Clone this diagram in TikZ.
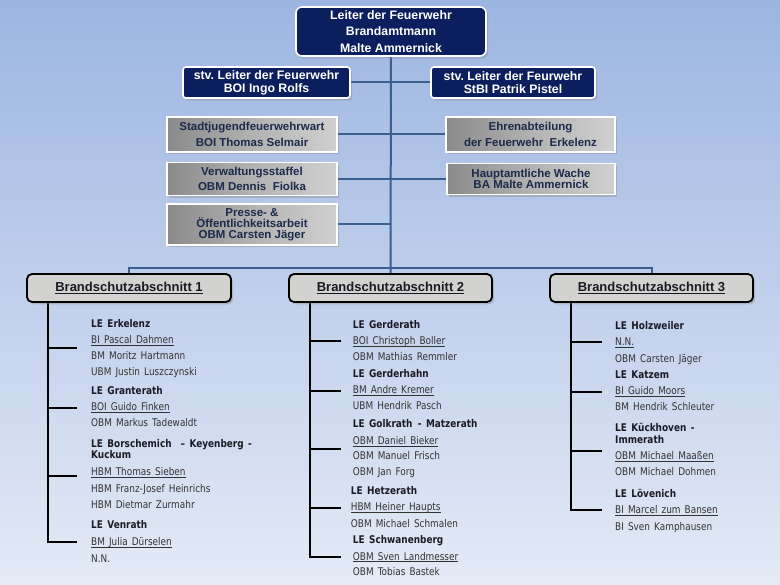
\documentclass[tikz,border=0pt]{standalone}
\usepackage{fontspec}
\setmainfont{Liberation Sans}
\newfontfamily\listfont{DejaVu Sans}[FakeStretch=0.84,WordSpace=1.45]
\usetikzlibrary{shadows}
\pgfdeclarelayer{bg}
\pgfdeclarelayer{background}
\pgfsetlayers{bg,background,main}
\definecolor{navy}{HTML}{0B1F5E}
\definecolor{linkblue}{HTML}{3C5E8E}
\definecolor{bgtop}{HTML}{9CB5E1}
\definecolor{bgmid}{HTML}{C3D2EC}
\definecolor{bgbot}{HTML}{E4EAF6}
\definecolor{boxtxt}{HTML}{1C2A4C}
\definecolor{listtxt}{HTML}{333333}
\definecolor{headtxt}{HTML}{1A1A24}
\definecolor{grayL}{HTML}{8A8A8A}
\definecolor{grayM}{HTML}{B2B2B2}
\definecolor{grayR}{HTML}{D0D0D0}
\definecolor{secfill}{HTML}{D2D2D0}
\newcommand\ulx[1]{\setbox0\hbox{#1}\rlap{\rule[-1.8pt]{\wd0}{0.5pt}}\box0}
\newcommand\ulh[1]{\setbox0\hbox{#1}\rlap{\rule[-2.6pt]{\wd0}{0.8pt}}\box0}
\frenchspacing
\begin{document}
\begin{tikzpicture}[x=1pt,y=-1pt,
  shad/.style={drop shadow={opacity=0.35,shadow xshift=2pt,shadow yshift=-2.5pt}},
  navybox/.style={draw=white,line width=1.6pt,fill=navy,text=white,align=center,inner sep=0pt,shad},
  graybox/.style={draw=white,line width=1.8pt,left color=grayL,right color=grayR,middle color=grayM,text=boxtxt,align=center,inner sep=0pt,shad},
  secbox/.style={draw=black,line width=1.8pt,fill=secfill,rounded corners=5pt,text=headtxt,inner sep=0pt,minimum height=28pt,font=\bfseries\fontsize{13}{15}\selectfont,shad},
  conn/.style={draw=linkblue,line width=2pt},
  spine/.style={draw=black,line width=2.4pt},
  item/.style={anchor=base west,inner sep=0pt,text=listtxt,font=\listfont\fontsize{10.6}{12}\selectfont},
  head/.style={anchor=base west,inner sep=0pt,text=headtxt,font=\listfont\bfseries\fontsize{10.6}{12}\selectfont}]
\useasboundingbox (0,0) rectangle (780,585);
\begin{pgfonlayer}{bg}
\shade[top color=bgtop,middle color=bgmid,bottom color=bgbot] (0,0) rectangle (780,585);
\end{pgfonlayer}

% top boxes
\node[navybox,rounded corners=6pt,minimum width=190pt,minimum height=49pt,font=\bfseries\fontsize{12.3}{16.7}\selectfont] (top) at (391,31.5) {Leiter der Feuerwehr\\Brandamtmann\\Malte Ammernick};
\node[navybox,rounded corners=3pt,minimum width=167pt,minimum height=31pt,font=\bfseries\fontsize{12.3}{12.7}\selectfont] (stvL) at (266.5,82.5) {stv. Leiter der Feuerwehr\\BOI Ingo Rolfs};
\node[navybox,rounded corners=3pt,minimum width=164pt,minimum height=31pt,font=\bfseries\fontsize{12.3}{12.7}\selectfont] (stvR) at (513,82.5) {stv. Leiter der Feurwehr\\StBI Patrik Pistel};

% gray boxes
\node[graybox,minimum width=170pt,minimum height=35pt,font=\bfseries\fontsize{11.5}{16.7}\selectfont] (sj) at (252,134.5) {Stadtjugendfeuerwehrwart\\BOI Thomas Selmair};
\node[graybox,minimum width=169pt,minimum height=35pt,font=\bfseries\fontsize{11.5}{16.7}\selectfont] (ehr) at (530.5,134.5) {Ehrenabteilung\\der Feuerwehr\ \ Erkelenz};
\node[graybox,minimum width=170pt,minimum height=33pt,font=\bfseries\fontsize{11.5}{15}\selectfont] (vw) at (252,179) {Verwaltungsstaffel\\OBM Dennis\ \ Fiolka};
\node[graybox,minimum width=168pt,minimum height=31pt,font=\bfseries\fontsize{11.5}{11.5}\selectfont] (hw) at (531,179) {Hauptamtliche Wache\\BA Malte Ammernick};
\node[graybox,minimum width=170pt,minimum height=41pt,font=\bfseries\fontsize{11.5}{11.2}\selectfont] (pr) at (252,224.5) {Presse- \&\\Öffentlichkeitsarbeit\\OBM Carsten Jäger};

% section boxes
\node[secbox,minimum width=204pt] (b1) at (129,288) {\ulh{Brandschutzabschnitt 1}};
\node[secbox,minimum width=203pt] (b2) at (390.5,288) {\ulh{Brandschutzabschnitt 2}};
\node[secbox,minimum width=203pt] (b3) at (651.5,288) {\ulh{Brandschutzabschnitt 3}};

% column 1
\node[head] (c1h1) at (91,327.5) {LE Erkelenz};
\node[item] (c1a) at (91,343.5) {\ulx{BI Pascal Dahmen}};
\node[item] (c1b) at (91,359.5) {BM Moritz Hartmann};
\node[item] (c1c) at (91,375.5) {UBM Justin Luszczynski};
\node[head] (c1h2) at (91,394.5) {LE Granterath};
\node[item] (c1d) at (91,410.5) {\ulx{BOI Guido Finken}};
\node[item] (c1e) at (91,426.5) {OBM Markus Tadewaldt};
\node[head] (c1h3) at (91,447.5) {LE Borschemich\ \ – Keyenberg -};
\node[head] (c1h3b) at (91,459) {Kuckum};
\node[item] (c1f) at (91,475.8) {\ulx{HBM Thomas Sieben}};
\node[item] (c1g) at (91,492.5) {HBM Franz-Josef Heinrichs};
\node[item] (c1i) at (91,509) {HBM Dietmar Zurmahr};
\node[head] (c1h4) at (91,529) {LE Venrath};
\node[item] (c1j) at (91,545.8) {\ulx{BM Julia Dürselen}};
\node[item] (c1k) at (91,562.5) {N.N.};

% column 2
\node[head] (c2h1) at (352.7,328.5) {LE Gerderath};
\node[item] (c2a) at (352.7,344.5) {\ulx{BOI Christoph Boller}};
\node[item] (c2b) at (352.7,361) {OBM Mathias Remmler};
\node[head] (c2h2) at (352.7,378) {LE Gerderhahn};
\node[item] (c2c) at (352.7,394) {\ulx{BM Andre Kremer}};
\node[item] (c2d) at (352.7,410) {UBM Hendrik Pasch};
\node[head] (c2h3) at (352.7,428) {LE Golkrath\enspace- Matzerath};
\node[item] (c2e) at (352.7,444.5) {\ulx{OBM Daniel Bieker}};
\node[item] (c2f) at (352.7,460) {OBM Manuel Frisch};
\node[item] (c2g) at (352.7,476) {OBM Jan Forg};
\node[head] (c2h4) at (350.7,494.5) {LE Hetzerath};
\node[item] (c2i) at (350.7,511) {\ulx{HBM Heiner Haupts}};
\node[item] (c2j) at (350.7,527) {OBM Michael Schmalen};
\node[head] (c2h5) at (352.7,543.5) {LE Schwanenberg};
\node[item] (c2k) at (352.7,560) {\ulx{OBM Sven Landmesser}};
\node[item] (c2l) at (352.7,576) {OBM Tobias Bastek};

% column 3
\node[head] (c3h1) at (615,329.5) {LE Holzweiler};
\node[item] (c3a) at (615,345.8) {\ulx{N.N.}};
\node[item] (c3b) at (615,362.5) {OBM Carsten Jäger};
\node[head] (c3h2) at (615,379) {LE Katzem};
\node[item] (c3c) at (615,395) {\ulx{BI Guido Moors}};
\node[item] (c3d) at (615,411) {BM Hendrik Schleuter};
\node[head] (c3h3) at (615,431.8) {LE Kückhoven -};
\node[head] (c3h3b) at (615,443.5) {Immerath};
\node[item] (c3e) at (615,459.5) {\ulx{OBM Michael Maaßen}};
\node[item] (c3f) at (615,475.8) {OBM Michael Dohmen};
\node[head] (c3h4) at (615,497.5) {LE Lövenich};
\node[item] (c3g) at (615,513.5) {\ulx{BI Marcel zum Bansen}};
\node[item] (c3i) at (615,530) {BI Sven Kamphausen};

% connector coordinates
\coordinate (busL) at (129,268);
\coordinate (busR) at (651.5,268);
\coordinate (s1) at (48,300);
\coordinate (k1a) at (77,348);
\coordinate (k1b) at (77,408);
\coordinate (k1c) at (77,476);
\coordinate (k1d) at (77,542);
\coordinate (s2) at (310,300);
\coordinate (k2a) at (340.7,341);
\coordinate (k2b) at (340.7,391);
\coordinate (k2c) at (340.7,449);
\coordinate (k2d) at (340.7,508);
\coordinate (k2e) at (340.7,557);
\coordinate (s3) at (571,300);
\coordinate (k3a) at (602,342);
\coordinate (k3b) at (602,392);
\coordinate (k3c) at (602,451);
\coordinate (k3d) at (602,510);

\begin{pgfonlayer}{background}
\draw[conn] (top.south) -- (b2.north);
\draw[conn] (stvL.east) -- (stvR.west);
\draw[conn] (sj.east) -- (ehr.west);
\draw[conn] (vw.east) -- (hw.west);
\draw[conn] (pr.east) -- (pr.east -| top.south);
\draw[conn] (b1.north) -- (busL) -- (busR) -- (b3.north);
\draw[spine] (s1) |- (k1d);
\draw[spine] (s1 |- k1a) -- (k1a);
\draw[spine] (s1 |- k1b) -- (k1b);
\draw[spine] (s1 |- k1c) -- (k1c);
\draw[spine] (s2) |- (k2e);
\draw[spine] (s2 |- k2a) -- (k2a);
\draw[spine] (s2 |- k2b) -- (k2b);
\draw[spine] (s2 |- k2c) -- (k2c);
\draw[spine] (s2 |- k2d) -- (k2d);
\draw[spine] (s3) |- (k3d);
\draw[spine] (s3 |- k3a) -- (k3a);
\draw[spine] (s3 |- k3b) -- (k3b);
\draw[spine] (s3 |- k3c) -- (k3c);
\end{pgfonlayer}
\end{tikzpicture}
\end{document}
